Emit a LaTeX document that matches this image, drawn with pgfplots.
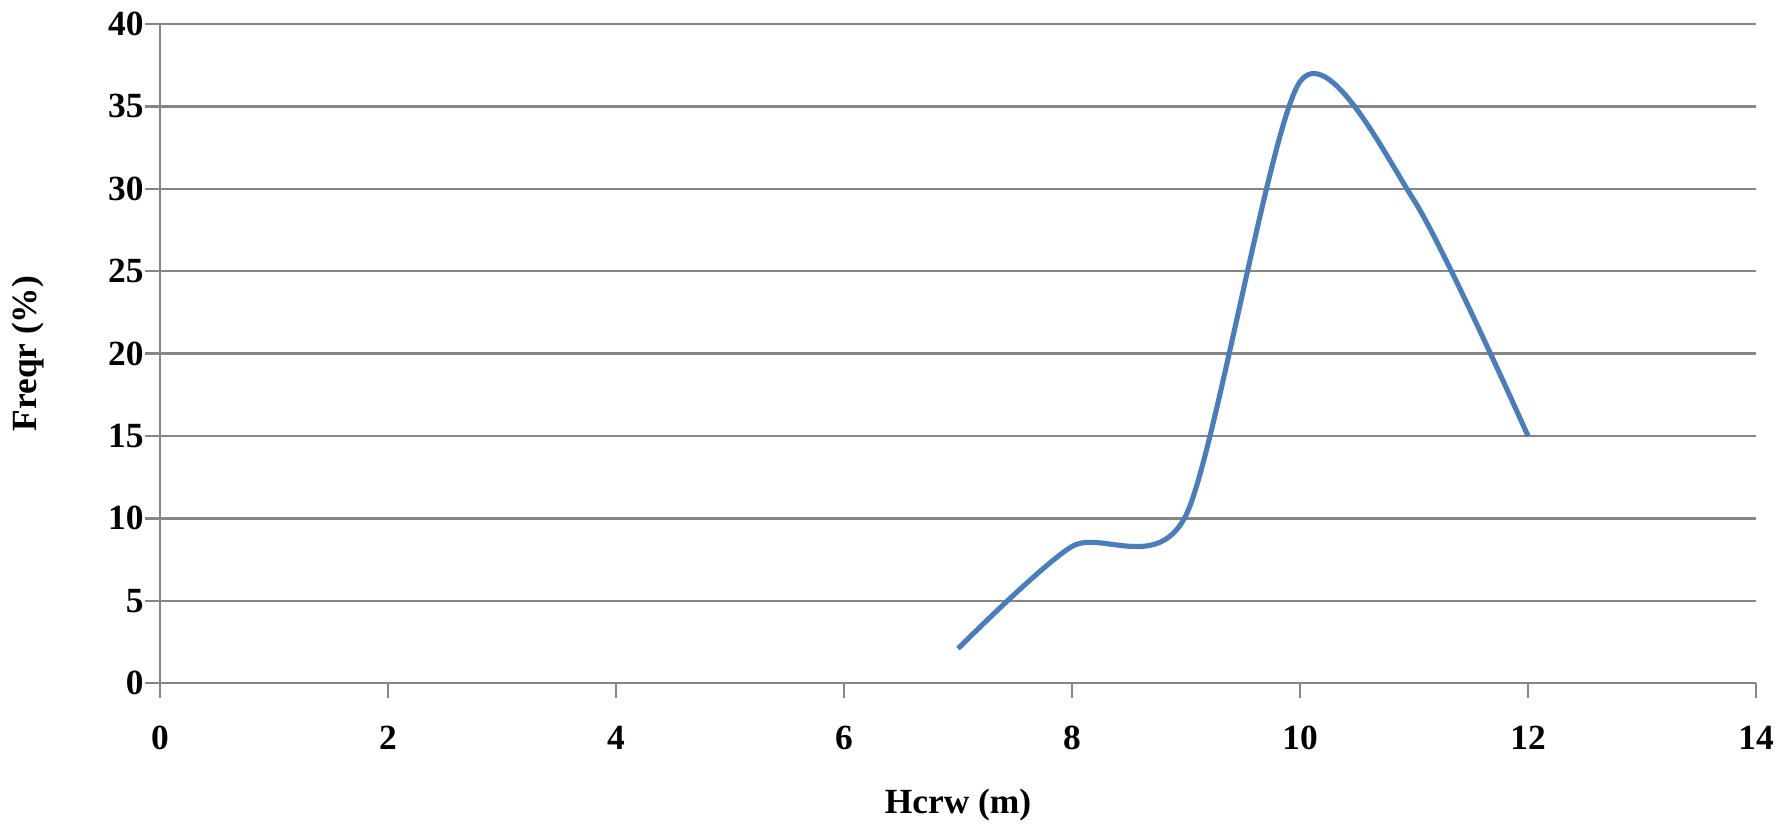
\documentclass[border=0pt]{standalone}
\usepackage{fontspec}
\setmainfont{Liberation Serif}
\usepackage{pgfplots}
\pgfplotsset{compat=1.18}
\definecolor{gridgray}{RGB}{134,134,134}
\definecolor{lineblue}{RGB}{74,126,187}
\begin{document}
\fontsize{9}{11}\selectfont
\begin{tikzpicture}
\begin{axis}[
  scale only axis, width=406pt, height=167.7pt,
  xmin=0, xmax=14, ymin=0, ymax=40,
  xtick={0,2,...,14}, ytick={0,5,...,40},
  axis lines=left,
  axis line style={gridgray, line width=0.6pt, -},
  ymajorgrids, grid style={gridgray, line width=0.6pt},
  tick style={gridgray, line width=0.6pt},
  tick align=outside, major tick length=3.8pt,
  /pgf/number format/assume math mode=true,
  ticklabel style={font=\fontsize{9}{11}\selectfont\bfseries, inner sep=0pt},
  xticklabel shift=7pt,
  yticklabel style={xshift=-0.2pt},
  xlabel={Hcrw (m)}, ylabel={Freqr (\%)},
  label style={font=\fontsize{9}{11}\selectfont\bfseries},
  xlabel style={at={(axis description cs:0.5,0)}, anchor=center, yshift=-31pt},
  ylabel style={at={(axis description cs:0,0.5)}, anchor=center, yshift=33.5pt},
]
\addplot[lineblue, line width=1.3pt, smooth, tension=0.45] coordinates {
  (7,2.1) (8,8.3) (9,10.2) (10,36.5) (11,29.3) (12,15)
};
\end{axis}
\pgfresetboundingbox
\path[use as bounding box] (-40.7pt,-36.4pt) rectangle (412.6pt,173.8pt);
\end{tikzpicture}
\end{document}
